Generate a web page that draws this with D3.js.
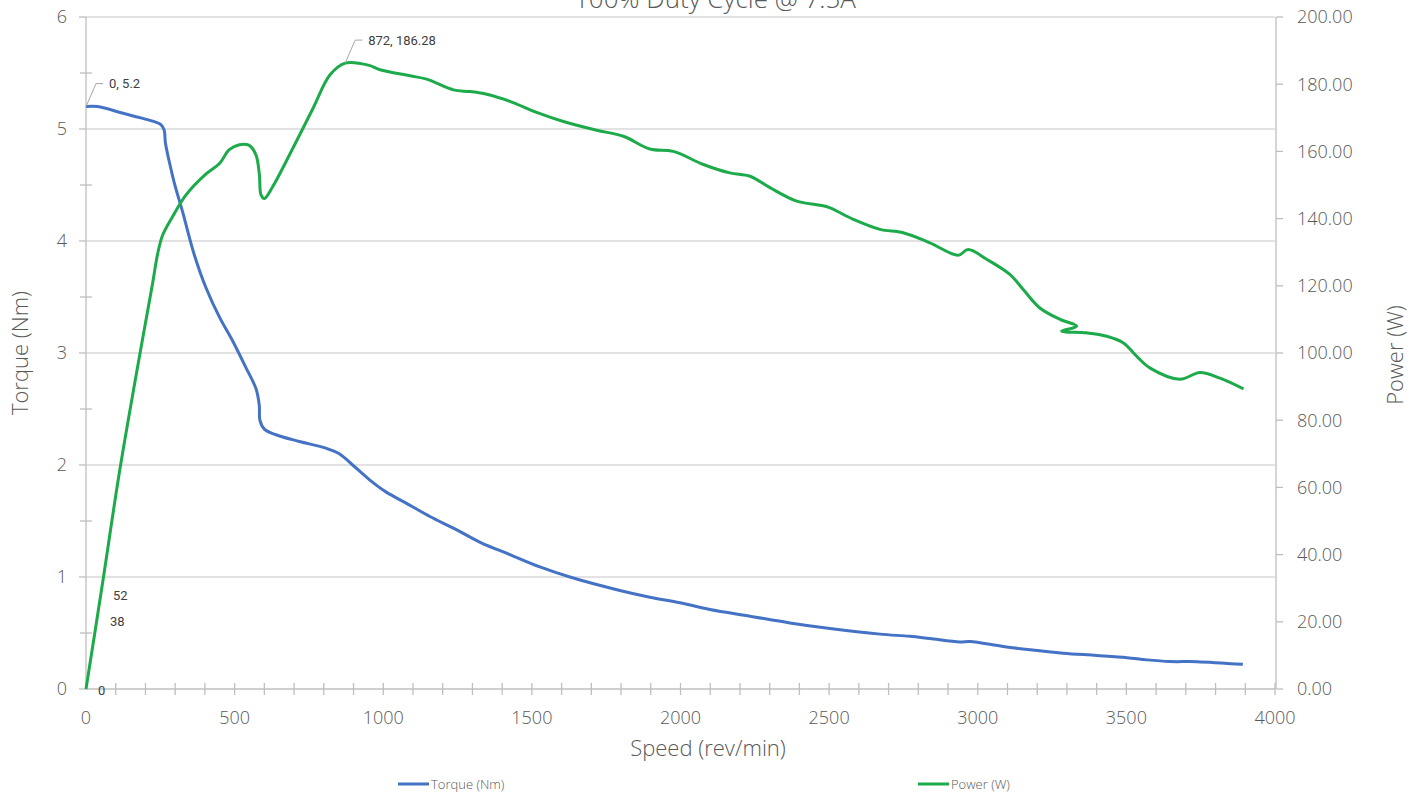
<!DOCTYPE html>
<html><head><meta charset="utf-8">
<script src="https://cdn.jsdelivr.net/npm/d3@7"></script>
<style>
html,body{margin:0;padding:0;background:#fff;}
text{font-family:"Open Sans",Lato,"Noto Sans",sans-serif;font-weight:300;fill:#595959;}
</style></head>
<body><svg id="c" width="1424" height="796"></svg>
<script>
const title = "100% Duty Cycle @ 7.5A";
const torqueSpeed = [0,39,112,168,224,252,263,267,280,297,325,364,404,449,493,538,572,583,585,600,639,718,807,852,897,953,1009,1077,1157,1241,1326,1426,1527,1628,1796,1897,1998,2099,2234,2368,2503,2671,2772,2839,2940,2974,3085,3176,3287,3400,3502,3569,3647,3737,3892];
const torqueValues = [5.2,5.2,5.15,5.11,5.07,5.04,4.99,4.88,4.71,4.52,4.26,3.88,3.58,3.32,3.11,2.87,2.68,2.53,2.40,2.32,2.27,2.21,2.15,2.10,2.00,1.87,1.76,1.66,1.54,1.43,1.31,1.20,1.09,1.00,0.88,0.82,0.77,0.71,0.65,0.59,0.54,0.49,0.47,0.45,0.42,0.425,0.38,0.35,0.32,0.30,0.28,0.26,0.245,0.244,0.22];
const powerSpeed = [0,56,112,168,224,241,258,292,336,404,449,482,516,549,572,583,589,600,628,695,763,821,872,953,989,1090,1146,1236,1292,1348,1426,1516,1606,1718,1808,1897,1976,2077,2166,2234,2301,2391,2469,2503,2581,2671,2749,2839,2934,2968,3030,3108,3153,3209,3277,3333,3282,3366,3434,3490,3535,3580,3680,3748,3815,3894];
const powerValues = [0,31.7,64.3,93.1,120.7,129.5,135.1,140.7,147,153.3,156.4,160.5,162,161.8,158.9,153.3,147,146,149.5,160.8,172.7,182.8,186.28,185.6,184.3,182.5,181.5,178.3,177.8,177.0,174.9,171.6,168.9,166.3,164.5,160.7,160.0,156.1,153.6,152.6,149.2,145.2,144.0,143.2,139.8,136.8,135.8,132.8,129.1,130.8,127.9,123.4,118.9,113.4,110.0,108.0,106.5,106.0,105.0,103.0,99.0,95.5,92.2,94.2,92.5,89.3];
const xTicks = [0,500,1000,1500,2000,2500,3000,3500,4000];
const leftTicks = [0,1,2,3,4,5,6];
const rightTicks = [0,20,40,60,80,100,120,140,160,180,200];
const seriesNames = ["Torque (Nm)","Power (W)"];
const labels = [
  {series:0, x:0, y:5.2, text:"0, 5.2"},
  {series:1, x:872, y:186.28, text:"872, 186.28"}
];

const svg = d3.select("#c");
const x = d3.scaleLinear().domain([0,4000]).range([86,1275]);
const yL = d3.scaleLinear().domain([0,6]).range([689,17]);
const yR = d3.scaleLinear().domain([0,200]).range([689,17]);
const blue = "#4472C4", green = "#1DAA4A", gridC = "#d9d9d9", axC = "#bfbfbf";

// gridlines
svg.append("g").selectAll("line").data(leftTicks.slice(1)).join("line")
  .attr("x1",x(0)).attr("x2",x(4000)).attr("y1",d=>yL(d)).attr("y2",d=>yL(d))
  .attr("stroke",gridC).attr("stroke-width",1.3);

// left axis
const gl = svg.append("g");
gl.append("line").attr("x1",x(0)).attr("x2",x(0)).attr("y1",yL(0)).attr("y2",yL(6)).attr("stroke",axC).attr("stroke-width",1.3);
gl.selectAll(".mj").data(leftTicks).join("line").attr("x1",x(0)-7).attr("x2",x(0)).attr("y1",d=>yL(d)).attr("y2",d=>yL(d)).attr("stroke",axC).attr("stroke-width",1.3);
gl.selectAll(".mn").data(d3.range(0.5,6,1)).join("line").attr("x1",x(0)-6).attr("x2",x(0)+6).attr("y1",d=>yL(d)).attr("y2",d=>yL(d)).attr("stroke",axC).attr("stroke-width",1.3);
gl.selectAll("text").data(leftTicks).join("text").attr("x",67).attr("y",d=>yL(d)).attr("dy","0.35em").attr("text-anchor","end").attr("font-size",18).text(d=>d);

// right axis
const gr = svg.append("g");
gr.append("line").attr("x1",1276).attr("x2",1276).attr("y1",yR(0)).attr("y2",yR(200)).attr("stroke",axC).attr("stroke-width",1.3);
gr.selectAll("line.t").data(rightTicks).join("line").attr("class","t").attr("x1",1276).attr("x2",1283).attr("y1",d=>yR(d)).attr("y2",d=>yR(d)).attr("stroke",axC).attr("stroke-width",1.3);
gr.selectAll("text").data(rightTicks).join("text").attr("x",1297).attr("y",d=>yR(d)).attr("dy","0.35em").attr("font-size",18).text(d=>d3.format(".2f")(d));

// x axis
const gx = svg.append("g");
gx.append("line").attr("x1",x(0)).attr("x2",x(4000)).attr("y1",yL(0)).attr("y2",yL(0)).attr("stroke",axC).attr("stroke-width",1.3);
gx.selectAll("line.t").data(d3.range(100,4001,100)).join("line").attr("class","t").attr("x1",d=>x(d)).attr("x2",d=>x(d)).attr("y1",yL(0)-6).attr("y2",yL(0)+6).attr("stroke",axC).attr("stroke-width",1.3);
gx.selectAll("text").data(xTicks).join("text").attr("x",d=>x(d)).attr("y",718).attr("dy","0.35em").attr("text-anchor","middle").attr("font-size",18).text(d=>d);

// axis titles
svg.append("text").attr("x",708).attr("y",748).attr("dy","0.35em").attr("text-anchor","middle").attr("font-size",22).text("Speed (rev/min)");
svg.append("text").attr("transform","translate(20,353) rotate(-90)").attr("dy","0.35em").attr("text-anchor","middle").attr("font-size",22).text("Torque (Nm)");
svg.append("text").attr("transform","translate(1395,355) rotate(-90)").attr("dy","0.35em").attr("text-anchor","middle").attr("font-size",22).text("Power (W)");

// title (partly above the visible area, as in the reference)
svg.append("text").attr("x",715).attr("y",8).attr("text-anchor","middle").attr("font-size",26).text(title);

// lines
const tData = torqueSpeed.map((s,i)=>[s,torqueValues[i]]);
const pData = powerSpeed.map((s,i)=>[s,powerValues[i]]);
svg.append("path").datum(tData).attr("fill","none").attr("stroke",blue).attr("stroke-width",3).attr("stroke-linejoin","round")
  .attr("d",d3.line().x(d=>x(d[0])).y(d=>yL(d[1])).curve(d3.curveCatmullRom.alpha(0.5)));
svg.append("path").datum(pData).attr("fill","none").attr("stroke",green).attr("stroke-width",3).attr("stroke-linejoin","round")
  .attr("d",d3.line().x(d=>x(d[0])).y(d=>yR(d[1])).curve(d3.curveCatmullRom.alpha(0.5)));

// data labels
labels.forEach(l=>{
  const px = x(l.x), py = l.series===0 ? yL(l.y) : yR(l.y);
  svg.append("polyline").attr("points",`${px},${py} ${px+10},${py-23} ${px+17},${py-23}`).attr("fill","none").attr("stroke","#a6a6a6").attr("stroke-width",1);
  svg.append("text").attr("x",px+23).attr("y",py-23).attr("dy","0.35em").attr("font-size",13).style("font-family","Roboto, sans-serif").style("font-weight",400).style("fill","#404040").text(l.text);
});
// small value labels near origin
const smallLabels = [{t:"52",px:113,py:595},{t:"38",px:110,py:621},{t:"0",px:98,py:690}];
svg.selectAll("text.sl").data(smallLabels).join("text").attr("class","sl").attr("x",d=>d.px).attr("y",d=>d.py).attr("dy","0.35em").attr("font-size",13).style("font-family","Roboto, sans-serif").style("font-weight",400).style("fill","#404040").text(d=>d.t);

// legend
const leg = [{n:seriesNames[0],c:blue,x:398},{n:seriesNames[1],c:green,x:918}];
leg.forEach(l=>{
  svg.append("line").attr("x1",l.x).attr("x2",l.x+31).attr("y1",784).attr("y2",784).attr("stroke",l.c).attr("stroke-width",3);
  svg.append("text").attr("x",l.x+33).attr("y",784).attr("dy","0.35em").attr("font-size",13).text(l.n);
});
</script></body></html>
